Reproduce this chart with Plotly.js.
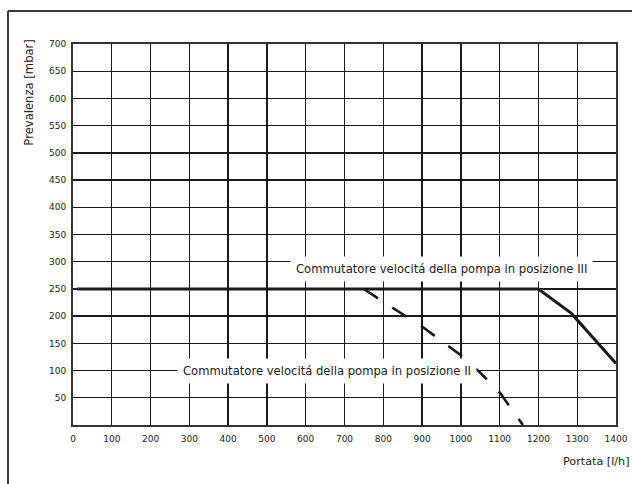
<!DOCTYPE html>
<html><head><meta charset="utf-8">
<script src="https://cdn.plot.ly/plotly-3.0.1.min.js"></script>
<style>html,body{margin:0;padding:0;background:#fff}#chart{width:632px;height:484px}</style>
</head><body><div id="chart"></div>
<script>
// Position III (solid)
const flowIII = [10, 1200, 1285, 1400];
const headIII = [250, 250, 205, 113];
// Position II (dashed)
const flowII = [750, 800, 900, 1000, 1050, 1100, 1160];
const headII = [250, 226, 181, 128, 96, 60, 0];
const xTicks = [0,100,200,300,400,500,600,700,800,900,1000,1100,1200,1300,1400];
const yTicks = [50,100,150,200,250,300,350,400,450,500,550,600,650,700];
const labelIII = 'Commutatore velocitá della pompa in posizione III';
const labelII = 'Commutatore velocitá della pompa in posizione II';

const F = 'DejaVu Sans, sans-serif';
const traces = [
  {x: flowIII, y: headIII, type: 'scatter', mode: 'lines', line: {color: '#1a1a1a', width: 3}, hoverinfo: 'skip'},
  {x: flowII, y: headII, type: 'scatter', mode: 'lines', line: {color: '#1a1a1a', width: 2.6, dash: '17px,17px'}, hoverinfo: 'skip'}
];
const layout = {
  width: 632, height: 484,
  margin: {l: 73, r: 16, t: 44, b: 59},
  paper_bgcolor: '#fff', plot_bgcolor: '#fff',
  showlegend: false,
  font: {family: F, color: '#222', size: 10},
  xaxis: {range: [0, 1400], tickvals: xTicks, ticktext: xTicks.map(String), showgrid: true, gridcolor: '#1a1a1a', gridwidth: 1.3,
    zeroline: false, showline: true, mirror: true, linecolor: '#333', linewidth: 2, ticks: '', ticklabelstandoff: 4,
    tickfont: {family: F, size: 9, color: '#222'}, fixedrange: true},
  yaxis: {range: [0, 700], tickvals: yTicks, ticktext: yTicks.map(String), showgrid: true, gridcolor: '#1a1a1a', gridwidth: 1.3,
    zeroline: false, showline: true, mirror: true, linecolor: '#333', linewidth: 2, ticks: '', ticklabelstandoff: 3,
    tickfont: {family: F, size: 9, color: '#222'}, fixedrange: true},
  shapes: [
    {type: 'line', xref: 'paper', yref: 'paper', x0: -0.1197, x1: 1.06, y0: 1.0866, y1: 1.0866, line: {color: '#3a3a3a', width: 2}},
    {type: 'line', xref: 'paper', yref: 'paper', x0: -0.1197, x1: -0.1197, y0: 1.0866, y1: -0.2, line: {color: '#3a3a3a', width: 2}}
  ],
  annotations: [
    {text: labelIII, xref: 'x', yref: 'y', x: 559, y: 287, xanchor: 'left', yanchor: 'middle', showarrow: false,
      bgcolor: '#fff', borderpad: 5, font: {family: F, size: 11.6, color: '#222'}},
    {text: labelII, xref: 'x', yref: 'y', x: 268, y: 100, xanchor: 'left', yanchor: 'middle', showarrow: false,
      bgcolor: '#fff', borderpad: 5, font: {family: F, size: 11.6, color: '#222'}},
    {text: 'Prevalenza [mbar]', xref: 'paper', yref: 'paper', x: -0.081, y: 1.018, xanchor: 'center', yanchor: 'top',
      textangle: -90, showarrow: false, font: {family: F, size: 11.6, color: '#222'}},
    {text: 'Portata [l/h]', xref: 'paper', yref: 'paper', x: 0.8987, y: -0.097, xanchor: 'left', yanchor: 'middle',
      showarrow: false, font: {family: F, size: 11.2, color: '#222'}}
  ]
};
Plotly.newPlot('chart', traces, layout, {staticPlot: true, displayModeBar: false});
</script></body></html>
